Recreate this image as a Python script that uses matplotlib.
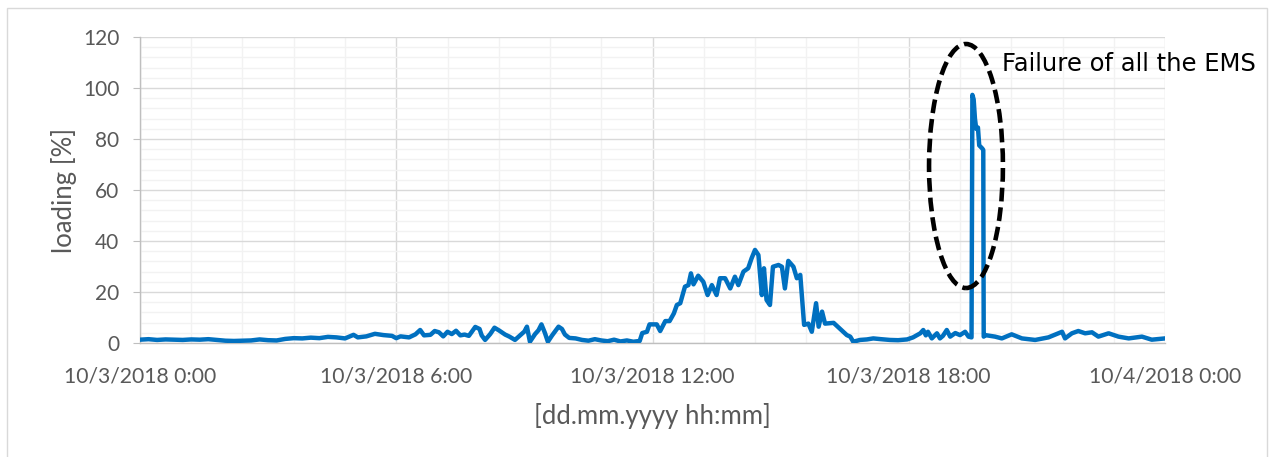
import numpy as np
import matplotlib
matplotlib.use("Agg")
import matplotlib.pyplot as plt
from matplotlib.patches import Ellipse, Rectangle
from matplotlib.ticker import MultipleLocator, FixedLocator, FixedFormatter

# transformer loading over one day (hours since 10/3/2018 0:00)
hours = [
    0.0, 0.2, 0.4, 0.6, 0.8, 1.0, 1.2, 1.4, 1.6, 1.8, 2.0, 2.2, 2.4, 2.6, 2.8,
    3.0, 3.2, 3.4, 3.6, 3.8, 4.0, 4.2, 4.4, 4.6, 4.8, 5.0, 5.1, 5.3, 5.5, 5.7,
    5.9, 6.0, 6.1, 6.3, 6.45, 6.56, 6.65, 6.8, 6.9, 7.0, 7.1, 7.2, 7.3, 7.4,
    7.5, 7.6, 7.7, 7.85, 7.95, 8.0, 8.08, 8.2, 8.3, 8.4, 8.55, 8.65, 8.78, 8.9,
    9.0, 9.06, 9.13, 9.25, 9.33, 9.4, 9.48, 9.55, 9.65, 9.8, 9.88, 9.95, 10.05,
    10.2, 10.35, 10.5, 10.65, 10.8, 10.95, 11.1, 11.25, 11.4, 11.55, 11.7,
    11.76, 11.87, 11.93, 12.0, 12.1, 12.18, 12.3, 12.4, 12.5, 12.57, 12.65,
    12.76, 12.84, 12.9, 12.96, 13.07, 13.19, 13.29, 13.39, 13.5, 13.58, 13.7,
    13.82, 13.93, 14.01, 14.13, 14.24, 14.32, 14.4, 14.48, 14.56, 14.61, 14.67,
    14.75, 14.82, 14.95, 15.03, 15.1, 15.18, 15.3, 15.38, 15.46, 15.52, 15.55,
    15.65, 15.73, 15.83, 15.89, 15.97, 16.04, 16.24, 16.4, 16.55, 16.63, 16.7,
    16.86, 17.02, 17.17, 17.35, 17.56, 17.75, 17.96, 18.1, 18.27, 18.34, 18.4,
    18.45, 18.54, 18.66, 18.73, 18.8, 18.89, 18.97, 19.09, 19.2, 19.32, 19.4,
    19.47, 19.49, 19.52, 19.55, 19.58, 19.62, 19.65, 19.72, 19.745, 19.755,
    19.79, 20.02, 20.18, 20.41, 20.65, 20.96, 21.27, 21.59, 21.66, 21.82,
    21.97, 22.13, 22.29, 22.44, 22.68, 22.91, 23.15, 23.46, 23.69, 24.0,
]
loading = [
    1.3, 1.5, 1.2, 1.4, 1.3, 1.2, 1.4, 1.3, 1.5, 1.2, 0.9, 0.8, 0.9, 1.0, 1.4,
    1.1, 1.0, 1.6, 1.9, 1.8, 2.1, 1.9, 2.4, 2.2, 1.8, 3.2, 2.2, 2.6, 3.6, 3.1,
    2.8, 1.9, 2.6, 2.2, 3.4, 5.1, 3.0, 3.2, 4.7, 4.2, 2.6, 4.4, 3.5, 4.8,
    3.0, 3.3, 2.8, 6.3, 5.5, 3.0, 1.2, 3.5, 6.0, 5.0, 3.3, 2.5, 1.2, 3.0,
    4.5, 6.4, 0.5, 3.5, 5.0, 7.3, 4.0, 0.5, 3.0, 6.4, 5.5, 3.3, 2.0,
    1.8, 1.2, 0.9, 1.5, 1.0, 0.7, 1.3, 0.6, 1.0, 0.5, 0.8,
    3.9, 4.4, 7.3, 7.3, 7.3, 4.7, 8.6, 8.6, 11.6, 14.9, 15.6,
    22.1, 22.7, 27.3, 23.0, 26.4, 24.0, 18.8, 22.7, 18.8, 25.4, 25.4,
    21.4, 26.0, 22.7, 28.0, 29.3, 33.2, 36.5, 34.5, 18.8, 29.3, 16.9,
    14.9, 29.9, 30.6, 29.9, 21.4, 32.2, 29.9, 25.4, 26.7, 13.6, 7.1,
    7.6, 4.4, 15.6, 6.4, 12.3, 7.6, 7.9, 5.4, 3.1, 2.5, 0.5,
    1.2, 1.4, 1.8, 1.5, 1.2, 1.1, 1.4, 2.2, 3.8, 5.1, 3.0,
    4.4, 1.8, 3.8, 1.8, 2.8, 5.1, 2.5, 3.9, 3.1, 4.4, 2.5,
    2.2, 97.3, 95.5, 88.0, 84.0, 84.5, 77.5, 76.3, 75.7, 2.5,
    3.1, 2.5, 1.8, 3.4, 1.8, 1.2, 2.2, 4.4, 1.8, 3.8,
    4.7, 3.8, 4.2, 2.5, 3.8, 2.5, 1.8, 2.5, 1.3, 1.8,
]

tick_hours = [0, 6, 12, 18, 24]
tick_labels = ["10/3/2018 0:00", "10/3/2018 6:00", "10/3/2018 12:00",
               "10/3/2018 18:00", "10/4/2018 0:00"]

grey_txt = "#595959"

fig = plt.figure(figsize=(12.74, 4.57), dpi=100)
ax = fig.add_axes([140/1274, 1 - 343/457, 1025/1274, 306/457])

ax.plot(hours, loading, color="#0070C0", lw=3.2, solid_joinstyle="round", zorder=3)

ax.set_xlim(0, 24)
ax.set_ylim(0, 120)
ax.xaxis.set_major_locator(FixedLocator(tick_hours))
ax.xaxis.set_major_formatter(FixedFormatter(tick_labels))
ax.xaxis.set_minor_locator(MultipleLocator(1.2))
ax.yaxis.set_major_locator(MultipleLocator(20))
ax.yaxis.set_minor_locator(MultipleLocator(4))

ax.grid(which="major", color="#D9D9D9", lw=1.0)
ax.grid(which="minor", color="#F2F2F2", lw=1.0)
ax.set_axisbelow(True)

for s in ["top", "right"]:
    ax.spines[s].set_visible(False)
for s in ["left", "bottom"]:
    ax.spines[s].set_color("#BFBFBF")
    ax.spines[s].set_linewidth(1.0)

ax.tick_params(axis="y", which="major", length=5, color="#BFBFBF", pad=10,
               labelsize=15, labelcolor=grey_txt)
ax.tick_params(axis="x", which="major", length=0, pad=17,
               labelsize=15.2, labelcolor=grey_txt)
ax.tick_params(which="minor", length=0)
for lab in ax.get_xticklabels() + ax.get_yticklabels():
    lab.set_fontfamily("Lato")

ax.set_ylabel("loading [%]", fontsize=18.5, color=grey_txt, family="Lato", labelpad=4)
ax.set_xlabel("[dd.mm.yyyy hh:mm]", fontsize=18.5, color=grey_txt, family="Lato", labelpad=12)

# dashed ellipse around the spike
ell = Ellipse((19.34, 69.4), 1.73, 95.7, fill=False, ec="black", lw=3.3,
              ls=(0, (3, 1.3)), zorder=4, clip_on=False)
ax.add_patch(ell)
ax.text(20.19, 109.5, "Failure of all the EMS", fontsize=17.5, family="DejaVu Sans",
        color="black", va="center", ha="left", clip_on=False)

# chart frame
fig.add_artist(Rectangle((7/1274, -0.1), 1260/1274, 1.1 - 8/457, transform=fig.transFigure,
                         fill=False, ec="#D9D9D9", lw=1))

fig.savefig("out.png", dpi=100)
